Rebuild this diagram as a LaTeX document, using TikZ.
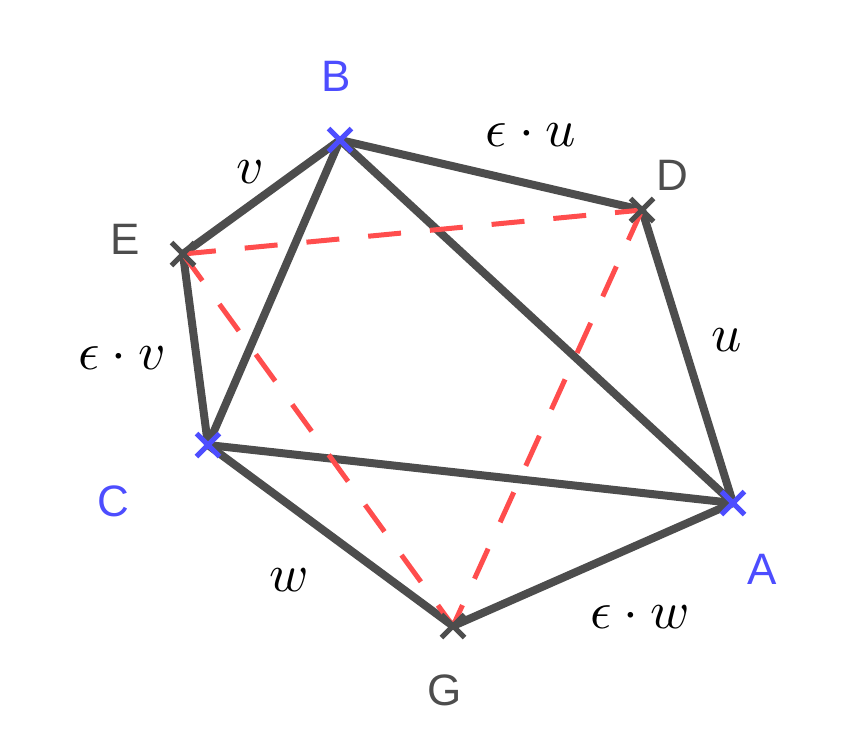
\documentclass[tikz,border=0pt]{standalone}
\usepackage{fontspec}
\newfontfamily\labfont{Liberation Sans}
\definecolor{edgegray}{HTML}{4D4D4D}
\definecolor{dashred}{HTML}{FF4D4D}
\definecolor{ptblue}{HTML}{4D4DFF}
\tikzset{
  edge/.style={draw=edgegray,line width=8pt},
  dedge/.style={draw=dashred,line width=5pt,dash pattern=on 33pt off 29pt},
  ptlab/.style={font=\labfont\fontsize{44}{52}\selectfont,inner sep=0pt},
  mlab/.style={scale=5.3,inner sep=0pt},
}
\newcommand{\crossmark}[2]{\draw[#1,line width=5pt] (#2) +(-11.5,-11.5) -- +(11.5,11.5) (#2) +(-11.5,11.5) -- +(11.5,-11.5);}
\begin{document}
\begin{tikzpicture}[x=1pt,y=-1pt]
\useasboundingbox (0,0) rectangle (846,740);
\coordinate (B) at (340,140);
\coordinate (D) at (642,210);
\coordinate (E) at (183,254);
\coordinate (C) at (208,445);
\coordinate (A) at (733,503);
\coordinate (G) at (453,626);
% solid edges
\draw[edge] (B) -- (D);
\draw[edge] (D) -- (A);
\draw[edge] (B) -- (E);
\draw[edge] (E) -- (C);
\draw[edge] (B) -- (C);
\draw[edge] (B) -- (A);
\draw[edge] (C) -- (A);
\draw[edge] (C) -- (G);
\draw[edge] (G) -- (A);
% dashed edges
\draw[dedge] (E) -- (D);
\draw[dedge] (E) -- (G);
\draw[dedge] (D) -- (G);
% point marks
\crossmark{ptblue}{B}
\crossmark{ptblue}{C}
\crossmark{ptblue}{A}
\crossmark{edgegray}{D}
\crossmark{edgegray}{E}
\crossmark{edgegray}{G}
% point labels
\node[ptlab,text=ptblue] (lB) at (336,76) {B};
\node[ptlab,text=edgegray] (lD) at (672,175) {D};
\node[ptlab,text=edgegray] (lE) at (125,239) {E};
\node[ptlab,text=ptblue] (lC) at (113,501) {C};
\node[ptlab,text=ptblue] (lA) at (762,569) {A};
\node[ptlab,text=edgegray] (lG) at (445,690) {G};
% edge labels
\node[mlab] (mBD) at (531,135) {$\epsilon\cdot u$};
\node[mlab] (mBE) at (250,172) {$v$};
\node[mlab] (mDA) at (727,340) {$u$};
\node[mlab] (mEC) at (122,358) {$\epsilon\cdot v$};
\node[mlab] (mCG) at (289,580) {$w$};
\node[mlab] (mGA) at (640,617) {$\epsilon\cdot w$};
\end{tikzpicture}
\end{document}
